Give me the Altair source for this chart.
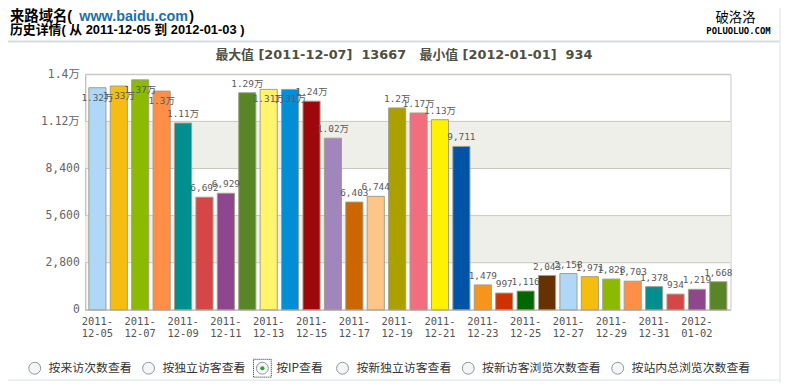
import altair as alt
import pandas as pd

# ---------------- data ----------------
dates = [
    "2011-12-05", "2011-12-06", "2011-12-07", "2011-12-08", "2011-12-09",
    "2011-12-10", "2011-12-11", "2011-12-12", "2011-12-13", "2011-12-14",
    "2011-12-15", "2011-12-16", "2011-12-17", "2011-12-18", "2011-12-19",
    "2011-12-20", "2011-12-21", "2011-12-22", "2011-12-23", "2011-12-24",
    "2011-12-25", "2011-12-26", "2011-12-27", "2011-12-28", "2011-12-29",
    "2011-12-30", "2011-12-31", "2012-01-01", "2012-01-02", "2012-01-03",
]
values = [
    13200, 13300, 13667, 13000, 11100,
    6692, 6929, 12900, 13100, 13100,
    12400, 10200, 6403, 6744, 12000,
    11700, 11300, 9711, 1479, 997,
    1116, 2043, 2158, 1971, 1828,
    1703, 1378, 934, 1219, 1668,
]
palette = [
    "#AFD8F8", "#F6BD0F", "#8BBA00", "#FF8E46", "#008E8E", "#D64646",
    "#8E468E", "#588526", "#FFF46B", "#008ED6", "#9D080D", "#A186BE",
    "#CC6600", "#FDC689", "#ABA000", "#F26D7D", "#FFF200", "#0054A6",
    "#F7941C", "#CC3300", "#006600", "#663300",
    "#AFD8F8", "#F6BD0F", "#8BBA00", "#FF8E46", "#008E8E", "#D64646",
    "#8E468E", "#588526",
]
y_ticks = [0, 2800, 5600, 8400, 11200, 14000]
band_starts = [2800, 8400]
band_ends = [5600, 11200]

NB = "\u00a0"
title_main = "来路域名("
title_site = "www.baidu.com"
title_close = ")"
subtitle = "历史详情( 从 2011-12-05 到 2012-01-03 )"
caption = "最大值 [2011-12-07]" + NB * 2 + "13667" + NB * 3 + "最小值 [2012-01-01]" + NB * 2 + "934"
radio_labels = ["按来访次数查看", "按独立访客查看", "按IP查看",
                "按新独立访客查看", "按新访客浏览次数查看", "按站内总浏览次数查看"]
radio_selected = 2
watermark_cn = "破洛洛"
watermark_en = "POLUOLUO.COM"

# ---------------- layout ----------------
W, H = 652, 238
MONO = "DejaVu Sans Mono, Noto Sans CJK SC"
SANS = "Liberation Sans, Noto Sans CJK SC"
CJK = "Noto Sans CJK SC"

df = pd.DataFrame({"date": dates, "value": values})
bands = pd.DataFrame({"value": band_starts, "end": band_ends})
ticks = pd.DataFrame({"value": y_ticks})
one = pd.DataFrame({"t": [""]})

label_expr = "datum.value >= 10000 ? format(datum.value / 10000, '.2~f') + '万' : format(datum.value, ',')"

yscale = alt.Scale(domain=[0, 14000], nice=False)
yaxis = alt.Axis(
    values=y_ticks, grid=False, ticks=False,
    labelExpr=label_expr,
    labelFont=MONO, labelFontSize=11.5, labelColor="#666666",
    labelPadding=6, domainColor="#bdbdbd",
)
xenc = alt.X(
    "date:N", sort=None, title=None,
    scale=alt.Scale(paddingInner=0.2, paddingOuter=0.17),
    axis=alt.Axis(
        values=dates[::2],
        labelExpr="[slice(datum.value, 0, 5), slice(datum.value, 5)]",
        labelAngle=0, ticks=False, grid=False, labelOverlap=False,
        labelFont=MONO, labelFontSize=10.5, labelColor="#555555",
        labelPadding=7, labelLineHeight=12, labelBaseline="top",
        domainColor="#bdbdbd",
    ),
)
yenc = alt.Y("value:Q", scale=yscale, title=None, axis=yaxis)

band_layer = alt.Chart(bands).mark_rect(color="#efefe9").encode(
    y=yenc, y2="end:Q",
    x=alt.value(0), x2=alt.value(W),
)
grid_layer = alt.Chart(ticks).mark_rule(color="#c6c6be", strokeWidth=1).encode(
    y=yenc, x=alt.value(0), x2=alt.value(W),
)
bars = alt.Chart(df).mark_bar(stroke="#a39e8a", strokeWidth=1).encode(
    x=xenc, y=yenc,
    color=alt.Color("date:N", sort=None,
                    scale=alt.Scale(domain=dates, range=palette), legend=None),
)
base_lbl = alt.Chart(df).transform_calculate(lbl=label_expr)
lbl_above = base_lbl.transform_filter("datum.value < 13000").mark_text(
    font=MONO, fontSize=9.5, color="#5a5a5a", dy=-9, baseline="middle"
).encode(x=xenc, y=yenc, text="lbl:N")
lbl_inside = base_lbl.transform_filter("datum.value >= 13000").mark_text(
    font=MONO, fontSize=9.5, color="#5a5a5a", dy=10, baseline="middle"
).encode(x=xenc, y=yenc, text="lbl:N")


def txt(s, x, y, **kw):
    return alt.Chart(pd.DataFrame({"t": [s]})).mark_text(baseline="middle", **kw).encode(
        text="t:N", x=alt.value(x), y=alt.value(y))


def hline(x1, x2, y, color, width=1):
    return alt.Chart(one).mark_rule(color=color, strokeWidth=width).encode(
        x=alt.value(x1), x2=alt.value(x2), y=alt.value(y))


def vline(x, y1, y2, color, width=1):
    return alt.Chart(one).mark_rule(color=color, strokeWidth=width).encode(
        x=alt.value(x), y=alt.value(y1), y2=alt.value(y2))


deco = [
    txt(title_main, -76, -58, align="left", font=SANS, fontSize=14.5, fontWeight="bold", color="#000000"),
    txt(title_site, -6, -58, align="left", font=SANS, fontSize=14.5, fontWeight="bold", color="#1f6fa6"),
    txt(title_close, 105, -58, align="left", font=SANS, fontSize=14.5, fontWeight="bold", color="#000000"),
    txt(subtitle, -76, -45, align="left", font=SANS, fontSize=13, fontWeight="bold", color="#000000"),
    hline(-86, 702, -33, "#d5dce0", 2),
    vline(702, -73, 312, "#dde3e6", 1),
    hline(-86, 702, 309, "#dde3e6", 1),
    txt(watermark_cn, 657, -57, align="center", font=CJK, fontSize=13.5, color="#000000"),
    txt(watermark_en, 660, -44, align="center", font="DejaVu Sans Mono", fontSize=9, fontWeight="bold", color="#000000"),
    txt(caption, 322, -19, align="center", font="DejaVu Sans, Noto Sans CJK SC", fontSize=13, fontWeight="bold", color="#4f4f40"),
]

# radio buttons row
ry = 297
cx = -51
for i, lab in enumerate(radio_labels):
    deco.append(alt.Chart(one).mark_point(shape="circle", size=144, filled=True,
                                          fill="#f5f5f5", stroke="#8a96a0", strokeWidth=1, opacity=1).encode(
        x=alt.value(cx), y=alt.value(ry)))
    if i == radio_selected:
        deco.append(alt.Chart(one).mark_point(shape="circle", size=18, filled=True,
                                              color="#3a9a3a", opacity=1).encode(
            x=alt.value(cx), y=alt.value(ry)))
        deco.append(alt.Chart(one).mark_rect(fill="transparent", stroke="#222222",
                                             strokeWidth=1, strokeDash=[1, 1]).encode(
            x=alt.value(cx - 9), x2=alt.value(cx + 9), y=alt.value(ry - 9), y2=alt.value(ry + 9)))
    deco.append(txt(lab, cx + 14, ry, align="left", font=CJK, fontSize=12, color="#333333"))
    w = sum(12 if ord(c) > 255 else 7 for c in lab)
    cx = cx + 14 + w + 17

chart = alt.layer(band_layer, grid_layer, bars, lbl_above, lbl_inside, *deco).properties(
    width=W, height=H,
    autosize=alt.AutoSizeParams(type="none"),
    padding={"left": 78, "top": 65, "right": 53, "bottom": 74},
).configure_view(stroke="#c8c8c8")

chart.save("out.html", embed_options={"renderer": "svg", "actions": False})
